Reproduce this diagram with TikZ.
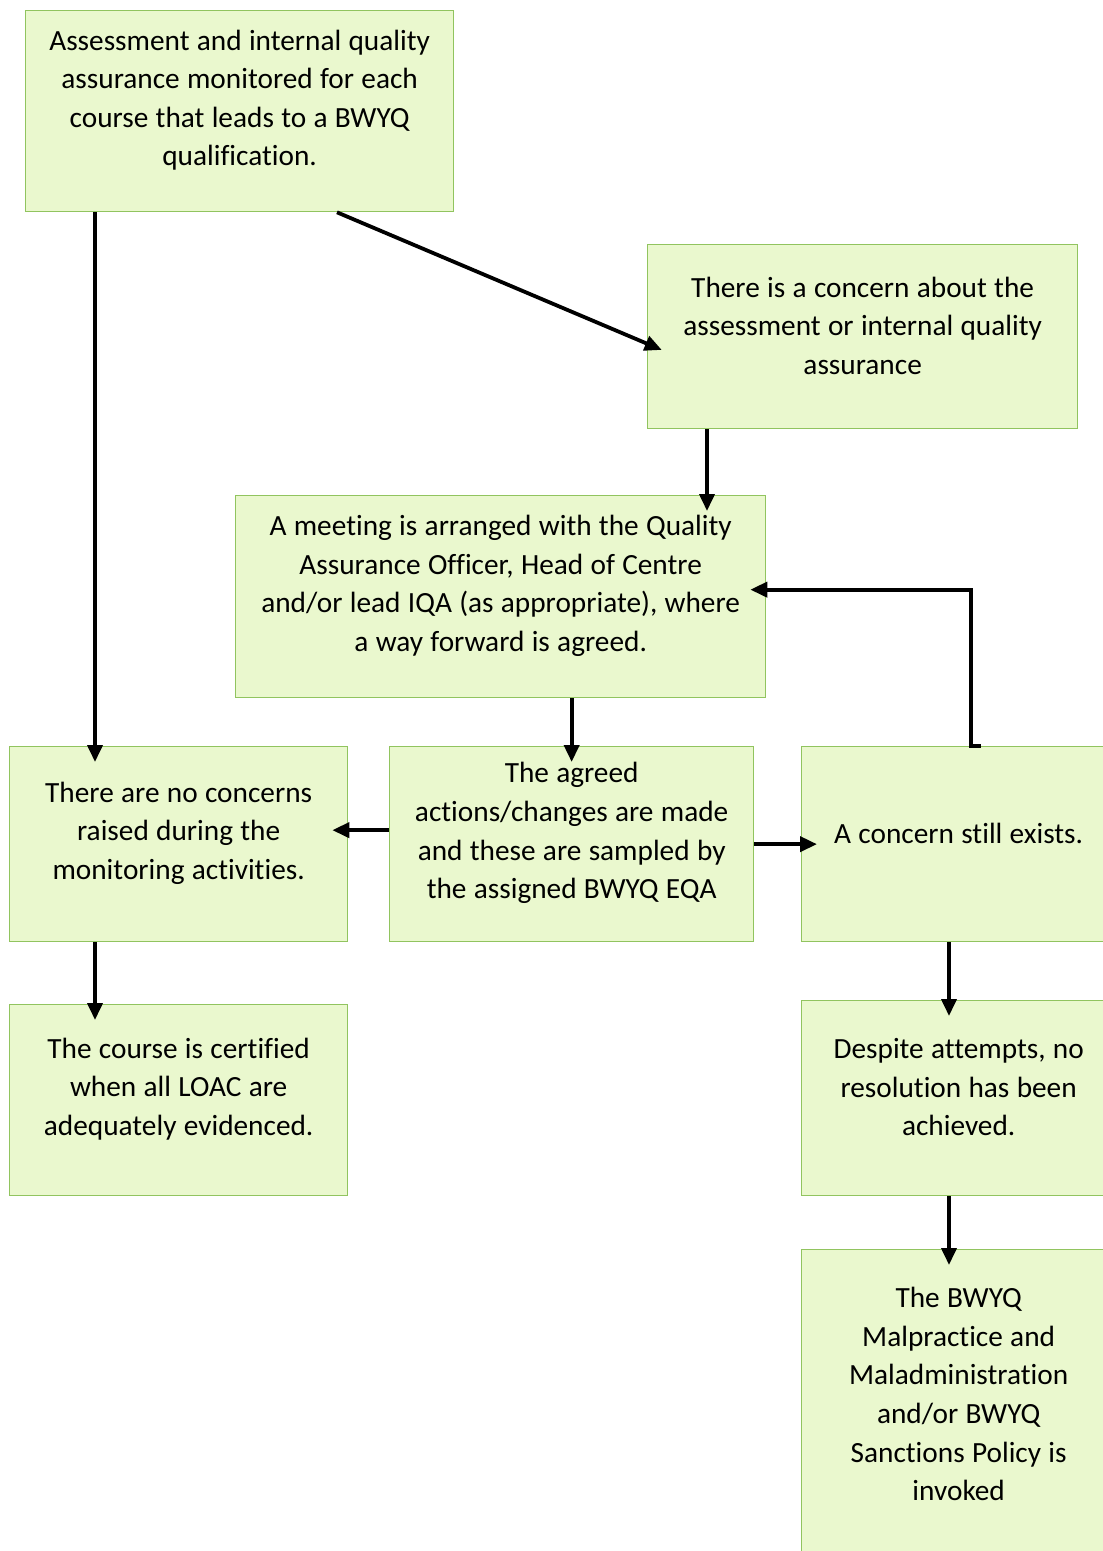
\documentclass[tikz,border=0pt]{standalone}
\usepackage{fontspec}
\setmainfont[RawFeature={-liga}]{Carlito}
\usetikzlibrary{arrows.meta}
\definecolor{boxfill}{RGB}{234,248,206}
\definecolor{boxline}{RGB}{145,196,95}
\tikzset{
	box/.style={draw=boxline, fill=boxfill, line width=1.3pt, anchor=north west, inner xsep=0pt, inner ysep=0pt, align=center, font=\fontsize{29.3pt}{38.6pt}\selectfont, execute at begin node={\spaceskip=7.3pt\relax}, execute at end node={\par\vspace*{22pt}}},
	arr/.style={line width=3.8pt, -{Triangle[length=17pt,width=15pt]}, shorten >=-16pt}
}
\begin{document}
\begin{tikzpicture}[x=1pt,y=-1pt]
		\useasboundingbox (0,0) rectangle (1103,1551);
		\clip (0,0) rectangle (1103,1551);
		
		\node[box, text width=428pt, minimum height=201pt] (topbox) at (25,10) {Assessment and internal quality\\ assurance monitored for each\\ course that leads to a BWYQ\\ qualification.};
		\node[box, text width=430pt, minimum height=184pt] (concern) at (647,244) {There is a concern about the\\ assessment or internal quality\\ assurance};
		\node[box, text width=530pt, minimum height=202pt] (meeting) at (235,495) {A meeting is arranged with the Quality\\ Assurance Officer, Head of Centre\\ and/or lead IQA (as appropriate), where\\ a way forward is agreed.};
		\node[box, text width=338pt, minimum height=195pt] (noconc) at (9,746) {There are no concerns\\ raised during the\\ monitoring activities.};
		\node[box, text width=364pt, minimum height=195pt] (agreed) at (389,746) {The agreed\\ actions/changes are made\\ and these are sampled by\\ the assigned BWYQ EQA};
		\node[box, text width=314pt, minimum height=195pt] (still) at (801,746) {A concern still exists.};
		\node[box, text width=338pt, minimum height=191pt] (cert) at (9,1004) {The course is certified\\ when all LOAC are\\ adequately evidenced.};
		\node[box, text width=314pt, minimum height=195pt] (despite) at (801,1000) {Despite attempts, no\\ resolution has been\\ achieved.};
		\node[box, text width=314pt, minimum height=311pt] (policy) at (801,1249) {The BWYQ\\ Malpractice and\\ Maladministration\\ and/or BWYQ\\ Sanctions Policy is\\ invoked};
		
		\draw[arr] ([xshift=70pt]topbox.south west) -- ([xshift=86pt]noconc.north west);
		\draw[arr] ([xshift=312pt]topbox.south west) -- ([yshift=-7pt]concern.west);
		\draw[arr] ([xshift=60pt]concern.south west) -- ([xshift=60pt]concern.south west |- meeting.north);
		\draw[arr] (agreed.north |- meeting.south) -- (agreed.north);
		\draw[arr] ([yshift=14pt]agreed.west) -- ([yshift=14pt]agreed.west -| noconc.east);
		\draw[arr] (agreed.east) -- (agreed.east -| still.west);
		\draw[arr] ([xshift=22pt]still.north) -- ++(-10,0) |- ([yshift=7pt]meeting.east);
		\draw[arr] ([xshift=148pt]still.south west) -- ([xshift=148pt]despite.north west);
		\draw[arr] ([xshift=148pt]despite.south west) -- ([xshift=148pt]policy.north west);
		\draw[arr] ([xshift=86pt]noconc.south west) -- ([xshift=86pt]cert.north west);

	\end{tikzpicture}
\end{document}
